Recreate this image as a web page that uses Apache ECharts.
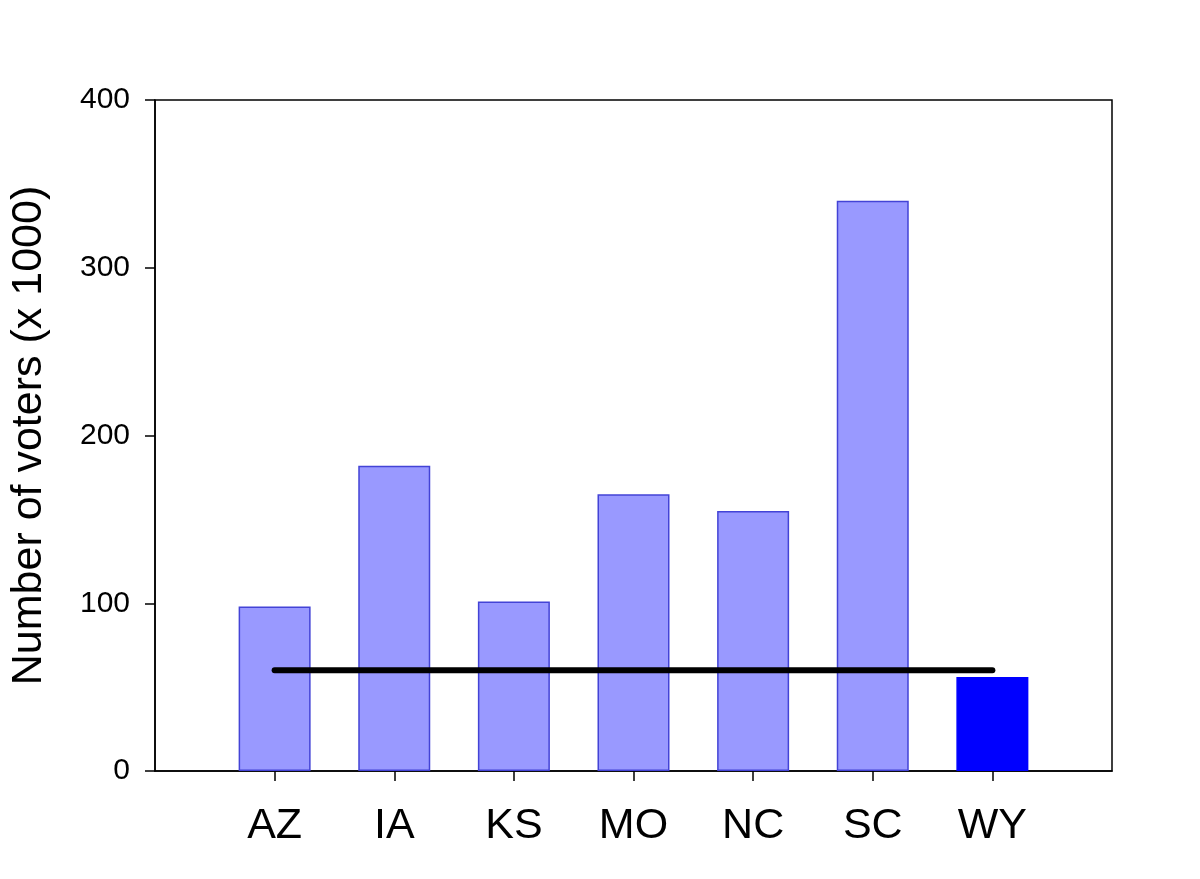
<!DOCTYPE html>
<html>
<head>
<meta charset="utf-8">
<script src="https://cdn.jsdelivr.net/npm/echarts@6/dist/echarts.min.js"></script>
<style>
html,body{margin:0;padding:0;background:#fff;}
#chart{width:1200px;height:879px;}
</style>
</head>
<body>
<div id="chart"></div>
<script>
const categories = ['AZ', 'IA', 'KS', 'MO', 'NC', 'SC', 'WY'];
const voters = [98, 182, 101, 165, 155, 340, 56];
const threshold = 60;
const yTicks = [0, 100, 200, 300, 400];

const positions = categories.map((c, i) => i + 1);
const barData = voters.map((v, i) => {
  const item = { value: [positions[i], v] };
  if (categories[i] === 'WY') {
    item.itemStyle = { color: '#0000ff', borderColor: '#0000ff' };
  }
  return item;
});
const lineData = [[positions[0], threshold], [positions[positions.length - 1], threshold]];

const chart = echarts.init(document.getElementById('chart'));
chart.setOption({
  animation: false,
  backgroundColor: '#ffffff',
  textStyle: { fontFamily: 'Liberation Sans, Arial, sans-serif' },
  grid: {
    left: 153, right: 88, top: 100, bottom: 108,
    show: true, borderColor: '#000', borderWidth: 1.5, backgroundColor: 'transparent'
  },
  xAxis: {
    type: 'value', min: 0, max: categories.length + 1, interval: 1,
    splitLine: { show: false },
    axisLine: { show: true, onZero: false, lineStyle: { color: '#000', width: 1.5 } },
    axisTick: { show: true, inside: false, length: 10, customValues: positions, lineStyle: { color: '#000', width: 1.5 } },
    axisLabel: {
      customValues: positions,
      formatter: v => categories[Math.round(v) - 1] || '',
      color: '#000', fontSize: 43, margin: 34
    }
  },
  yAxis: {
    type: 'value', min: yTicks[0], max: yTicks[yTicks.length - 1], interval: 100,
    name: 'Number of voters (x 1000)', nameLocation: 'middle', nameGap: 104,
    nameTextStyle: { fontSize: 43, color: '#000' },
    splitLine: { show: false },
    axisLine: { show: true, lineStyle: { color: '#000', width: 1.5 } },
    axisTick: { show: true, inside: false, length: 10, lineStyle: { color: '#000', width: 1.5 } },
    axisLabel: { color: '#000', fontSize: 30, margin: 25 }
  },
  series: [
    {
      type: 'bar', data: barData, barWidth: 72,
      itemStyle: { color: '#9999ff', borderColor: '#4343d6', borderWidth: 1.5 },
      z: 2
    },
    {
      type: 'line', data: lineData, showSymbol: false, symbol: 'none',
      lineStyle: { color: '#000', width: 6, cap: 'round' },
      z: 3
    }
  ]
});
</script>
</body>
</html>
